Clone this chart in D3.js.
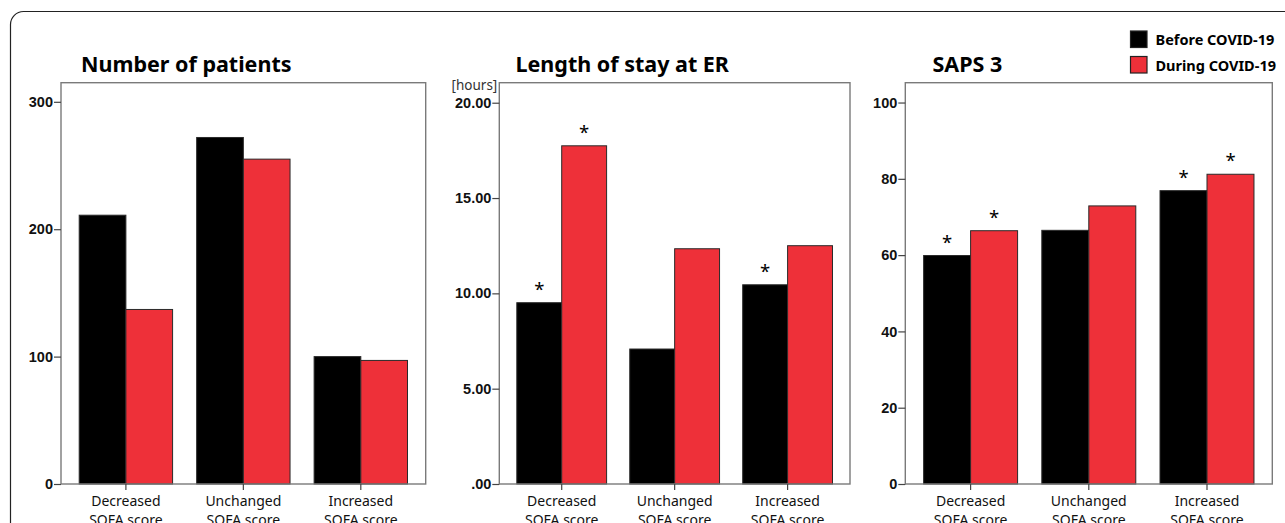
<!DOCTYPE html>
<html>
<head>
<meta charset="utf-8">
<script src="https://cdn.jsdelivr.net/npm/d3@7"></script>
<style>
  html, body { margin: 0; padding: 0; background: #fff; }
  svg { display: block; }
</style>
</head>
<body>
<svg id="chart" width="1285" height="523"></svg>
<script>
// ---------- data ----------
const categoryLine1 = ["Decreased", "Unchanged", "Increased"];
const categoryLine2 = ["SOFA score", "SOFA score", "SOFA score"];
const seriesNames = ["Before COVID-19", "During COVID-19"];
const seriesColors = ["#000000", "#EE3039"];

const patientsBefore = [211, 272, 100];
const patientsDuring = [137, 255, 97];
const patientsTicks = [0, 100, 200, 300];
const patientsTickLabels = ["0", "100", "200", "300"];

const losBefore = [9.51, 7.08, 10.45];
const losDuring = [17.74, 12.34, 12.5];
const losTicks = [0, 5, 10, 15, 20];
const losTickLabels = [".00", "5.00", "10.00", "15.00", "20.00"];
const losSigBefore = [true, false, true];
const losSigDuring = [true, false, false];

const sapsBefore = [59.9, 66.5, 76.9];
const sapsDuring = [66.4, 72.9, 81.2];
const sapsTicks = [0, 20, 40, 60, 80, 100];
const sapsTickLabels = ["0", "20", "40", "60", "80", "100"];
const sapsSigBefore = [true, false, true];
const sapsSigDuring = [true, false, true];

const titles = ["Number of patients", "Length of stay at ER", "SAPS 3"];

// ---------- panels ----------
const panels = [
  { title: titles[0], before: patientsBefore, during: patientsDuring, ticks: patientsTicks, labels: patientsTickLabels,
    max: 315, sigB: null, sigD: null, x0: 61, x1: 425.7, titleX: 81 },
  { title: titles[1], before: losBefore, during: losDuring, ticks: losTicks, labels: losTickLabels,
    max: 21.05, sigB: losSigBefore, sigD: losSigDuring, x0: 499.3, x1: 850, titleX: 515.5, unit: "[hours]" },
  { title: titles[2], before: sapsBefore, during: sapsDuring, ticks: sapsTicks, labels: sapsTickLabels,
    max: 105.2, sigB: sapsSigBefore, sigD: sapsSigDuring, x0: 905.3, x1: 1272.3, titleX: 932.5 }
];
const plotTop = 82.7, plotBottom = 484;

const svg = d3.select("#chart");

// outer rounded frame
svg.append("rect")
  .attr("x", 10.5).attr("y", 11.5)
  .attr("width", 1400).attr("height", 600)
  .attr("rx", 13).attr("ry", 13)
  .attr("fill", "none").attr("stroke", "#222").attr("stroke-width", 1.2);

panels.forEach(p => {
  const g = svg.append("g");
  const y = d3.scaleLinear().domain([0, p.max]).range([plotBottom, plotTop]);
  const x = d3.scaleBand().domain(d3.range(categoryLine1.length))
    .range([p.x0, p.x1]).paddingInner(0.205).paddingOuter(0.155);
  const xs = d3.scaleBand().domain([0, 1]).range([0, x.bandwidth()]);

  // title
  g.append("text")
    .attr("x", p.titleX).attr("y", 72)
    .attr("font-family", "Noto Sans").attr("font-weight", "bold").attr("font-size", 21.5)
    .attr("fill", "#000").text(p.title);

  if (p.unit) {
    g.append("text")
      .attr("x", p.x0 - 2).attr("y", 89.5)
      .attr("text-anchor", "end")
      .attr("font-family", "Noto Sans").attr("font-size", 13.5)
      .attr("fill", "#333").text(p.unit);
  }

  // bars
  const rows = [];
  categoryLine1.forEach((c, i) => {
    rows.push({ i, s: 0, v: p.before[i], sig: p.sigB ? p.sigB[i] : false });
    rows.push({ i, s: 1, v: p.during[i], sig: p.sigD ? p.sigD[i] : false });
  });
  g.selectAll("rect.bar").data(rows).enter().append("rect")
    .attr("class", "bar")
    .attr("x", d => x(d.i) + xs(d.s))
    .attr("y", d => y(d.v))
    .attr("width", xs.bandwidth())
    .attr("height", d => plotBottom - y(d.v))
    .attr("fill", d => seriesColors[d.s])
    .attr("stroke", "#2a2a2a").attr("stroke-width", 1);

  // significance stars
  g.selectAll("text.star").data(rows.filter(d => d.sig)).enter().append("text")
    .attr("class", "star")
    .attr("x", d => x(d.i) + xs(d.s) + xs.bandwidth() / 2)
    .attr("y", d => y(d.v) - 7)
    .attr("text-anchor", "middle")
    .attr("font-family", "Noto Sans").attr("font-size", 18.5)
    .attr("fill", "#000").text("*");

  // frame
  g.append("rect")
    .attr("x", p.x0).attr("y", plotTop)
    .attr("width", p.x1 - p.x0).attr("height", plotBottom - plotTop)
    .attr("fill", "none").attr("stroke", "#7a7a7a").attr("stroke-width", 1.4);

  // y axis
  const yAxis = d3.axisLeft(y).tickValues(p.ticks)
    .tickFormat((d, k) => p.labels[k]).tickSize(7).tickPadding(1);
  const ya = g.append("g").attr("transform", `translate(${p.x0},0)`).call(yAxis);
  ya.select(".domain").remove();
  ya.selectAll(".tick line").attr("stroke", "#444").attr("stroke-width", 1.2);
  ya.selectAll(".tick text")
    .attr("font-family", "Liberation Sans").attr("font-weight", "bold")
    .attr("font-size", 14.5).attr("fill", "#111");

  // x axis
  const xAxis = d3.axisBottom(x).tickSize(6).tickFormat("");
  const xa = g.append("g").attr("transform", `translate(0,${plotBottom})`).call(xAxis);
  xa.select(".domain").remove();
  xa.selectAll(".tick line").attr("stroke", "#444").attr("stroke-width", 1.2);

  const lbl = g.selectAll("text.cat").data(categoryLine1).enter().append("text")
    .attr("class", "cat")
    .attr("text-anchor", "middle")
    .attr("font-family", "Noto Sans").attr("font-size", 14)
    .attr("fill", "#111");
  lbl.append("tspan").attr("x", (d, i) => x(i) + x.bandwidth() / 2).attr("y", 506).text(d => d);
  lbl.append("tspan").attr("x", (d, i) => x(i) + x.bandwidth() / 2).attr("y", 525).text((d, i) => categoryLine2[i]);
});

// legend
const legend = svg.append("g");
seriesNames.forEach((n, k) => {
  legend.append("rect")
    .attr("x", 1130.5).attr("y", 31 + k * 25.5)
    .attr("width", 16.5).attr("height", 16.5)
    .attr("fill", seriesColors[k]).attr("stroke", "#222").attr("stroke-width", 1.2);
  legend.append("text")
    .attr("x", 1155.5).attr("y", 45 + k * 25.5)
    .attr("font-family", "Noto Sans").attr("font-weight", "bold").attr("font-size", 14.5)
    .attr("fill", "#000").text(n);
});
</script>
</body>
</html>
